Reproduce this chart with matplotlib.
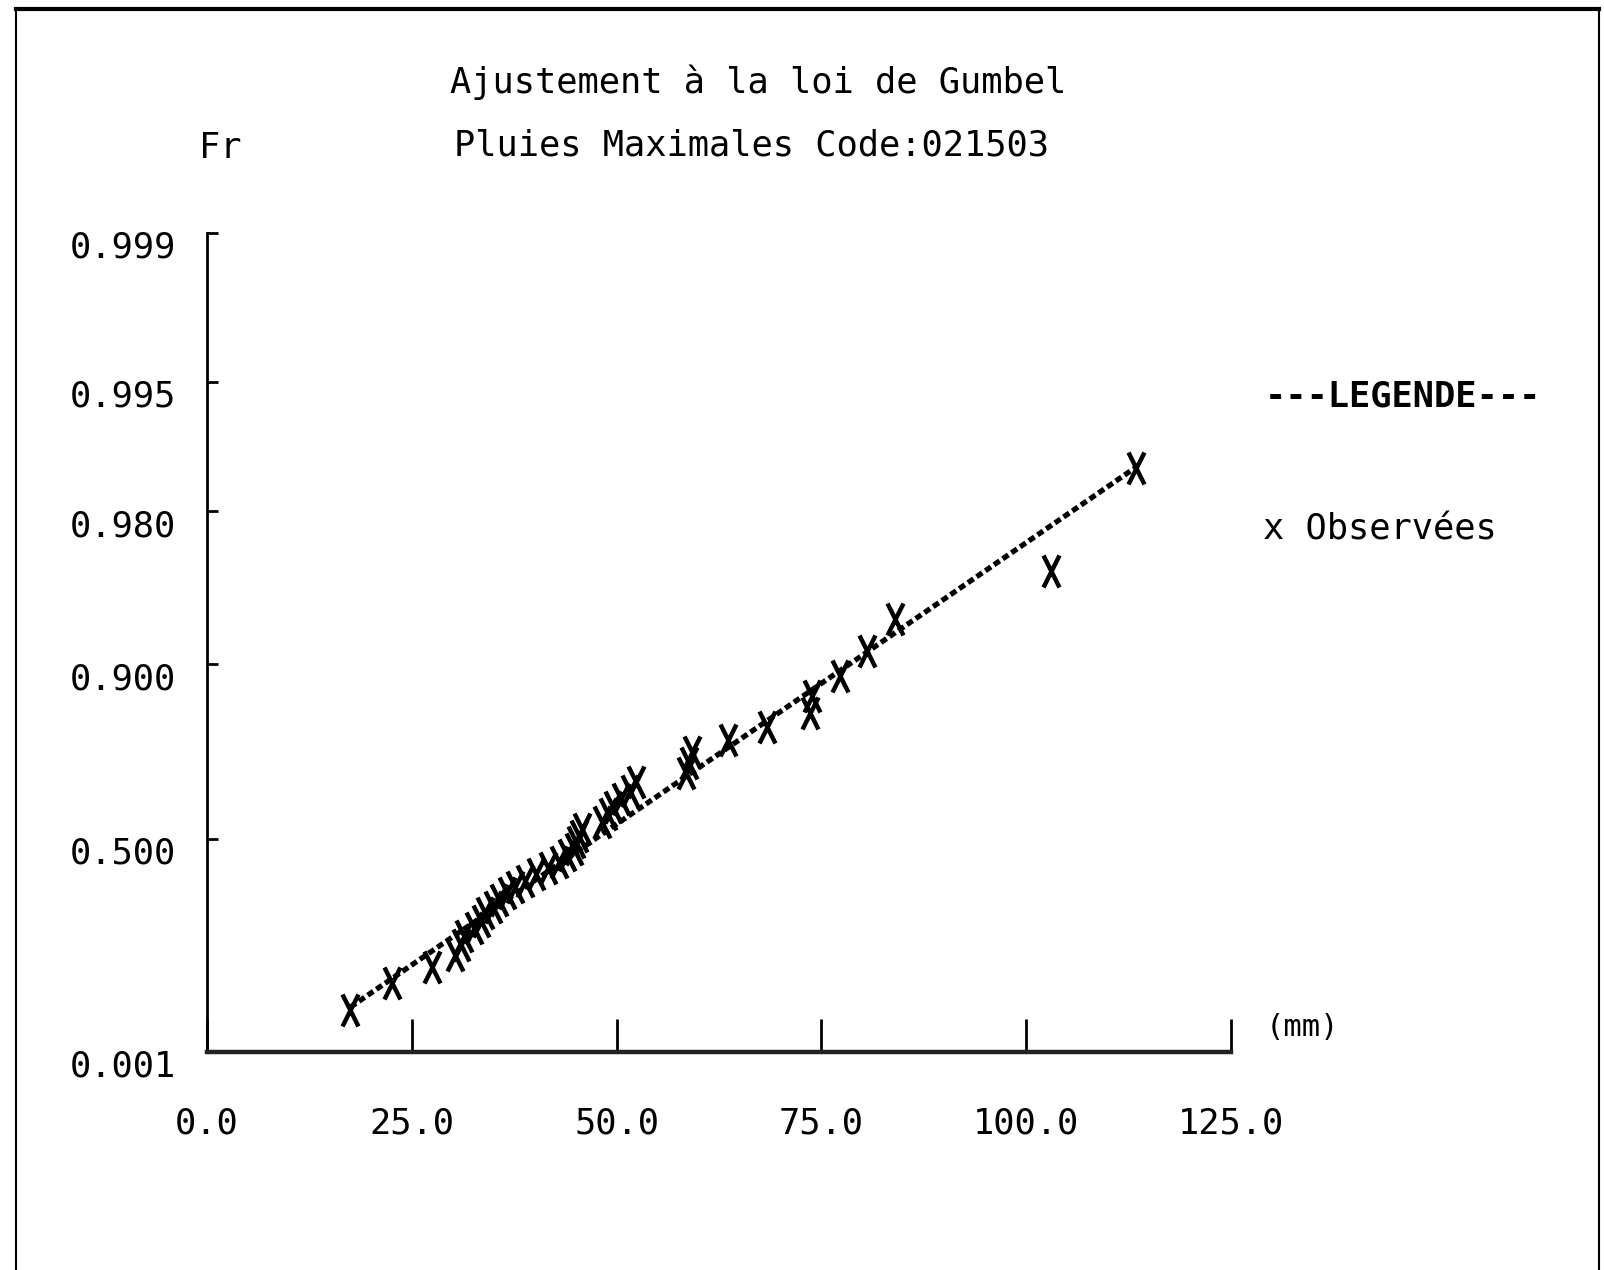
import numpy as np
import matplotlib
matplotlib.use("Agg")
import matplotlib.pyplot as plt
from matplotlib.path import Path
from matplotlib.lines import Line2D
from matplotlib.transforms import ScaledTranslation

# observed maxima (mm), sorted, with their plotting frequencies
pluies = [17.5, 22.6, 27.5, 30.3, 31.0, 31.4, 32.6, 33.4, 34.0, 34.9,
          35.6, 36.6, 37.6, 38.8, 40.2, 41.6, 43.0, 44.0, 44.8, 45.1,
          45.4, 45.8, 48.2, 48.9, 49.6, 50.6, 51.6, 52.4, 58.5, 58.8,
          59.2, 63.6, 68.4, 73.6, 73.8, 77.3, 80.6, 84.0, 103.0, 113.4]
freq = [0.0125, 0.0375, 0.0625, 0.0875, 0.1125, 0.1375, 0.1625, 0.1875,
        0.2125, 0.2375, 0.2625, 0.2875, 0.3125, 0.3375, 0.3625, 0.3875,
        0.4125, 0.4375, 0.4625, 0.4875, 0.5125, 0.5375, 0.5625, 0.5875,
        0.6125, 0.6375, 0.6625, 0.6875, 0.7125, 0.7375, 0.7625, 0.7875,
        0.8125, 0.8375, 0.8625, 0.8875, 0.9125, 0.9375, 0.9625, 0.9875]

# gumbel fit (position, scale) and range of the fitted line
u_gum = 41.35
a_gum = 16.45
fit_x = [17.5, 113.4]

xticks = [0.0, 25.0, 50.0, 75.0, 100.0, 125.0]
fticks = [0.001, 0.500, 0.900, 0.980, 0.995, 0.999]


def gumbel_fwd(F):
    F = np.clip(F, 1e-9, 1 - 1e-9)
    return -np.log(-np.log(F))


def gumbel_inv(y):
    return np.exp(-np.exp(-y))


FONT = "DejaVu Sans Mono"
FS = 25.5

fig = plt.figure(figsize=(16.04, 12.70), dpi=100)
ax = fig.add_axes([0.129, 0.1717, 0.6385, 0.6448])
ax.set_yscale("function", functions=(gumbel_fwd, gumbel_inv))

# fitted line
fx = np.array(fit_x)
fF = gumbel_inv((fx - u_gum) / a_gum)
ax.plot(fx, fF, color="black", lw=3.8, linestyle=(0, (1.3, 0.7)), zorder=2)

# tall narrow X marker like the printer glyph
xmark = Path([(-0.5, -1), (0.5, 1), (-0.5, 1), (0.5, -1)],
             [Path.MOVETO, Path.LINETO, Path.MOVETO, Path.LINETO])
ax.plot(pluies, freq, linestyle="none", marker=xmark, markersize=23,
        markeredgewidth=3.2, color="black", zorder=3)

ax.set_xlim(0, 125)
ax.set_ylim(0.001, 0.999)

for s in ["top", "right"]:
    ax.spines[s].set_visible(False)
ax.spines["left"].set_linewidth(2)
ax.spines["bottom"].set_linewidth(3.2)
ax.spines["bottom"].set_color("#222222")

ax.set_xticks(xticks)
ax.set_xticklabels(["%.1f" % v for v in xticks])
ax.set_yticks(fticks)
ax.set_yticklabels(["%.3f" % v for v in fticks])
ax.yaxis.set_minor_locator(matplotlib.ticker.NullLocator())
ax.xaxis.set_minor_locator(matplotlib.ticker.NullLocator())

ax.tick_params(axis="x", direction="in", length=24, width=2, pad=39,
               labelsize=FS)
ax.tick_params(axis="y", direction="in", length=8, width=2, pad=22,
               labelsize=FS)
for lab in ax.get_xticklabels() + ax.get_yticklabels():
    lab.set_fontfamily(FONT)
# labels on y sit a little under their ticks
for lab in ax.get_yticklabels():
    lab.set_transform(lab.get_transform() +
                      ScaledTranslation(0, -8 / 72, fig.dpi_scale_trans))

ax.text(1.034, 0.030, "(mm)", transform=ax.transAxes, ha="left",
        va="center", fontsize=22, family=FONT)

# titles and labels
fig.text(758 / 1604, 1 - 82 / 1270, "Ajustement à la loi de Gumbel",
         ha="center", va="center", fontsize=FS, family=FONT)
fig.text(752 / 1604, 1 - 145 / 1270, "Pluies Maximales Code:021503",
         ha="center", va="center", fontsize=FS, family=FONT)
fig.text(220 / 1604, 1 - 148 / 1270, "Fr", ha="center", va="center",
         fontsize=FS, family=FONT)

# legend block
fig.text(1265 / 1604, 1 - 397 / 1270, "---LEGENDE---", ha="left",
         va="center", fontsize=FS, family=FONT, weight="bold")
fig.text(1263 / 1604, 1 - 529 / 1270, "x Observées", ha="left",
         va="center", fontsize=FS, family=FONT)

# page frame
W, H = 1604, 1270
fig.add_artist(Line2D([16 / W, 16 / W], [0, 1 - 9 / H], color="black",
                      lw=1.5, transform=fig.transFigure))
fig.add_artist(Line2D([1599 / W, 1599 / W], [0, 1 - 9 / H], color="black",
                      lw=1.5, transform=fig.transFigure))
fig.add_artist(Line2D([16 / W, 1599 / W], [1 - 9 / H, 1 - 9 / H],
                      color="black", lw=3, transform=fig.transFigure))

fig.savefig("out.png", dpi=100, facecolor="white")
